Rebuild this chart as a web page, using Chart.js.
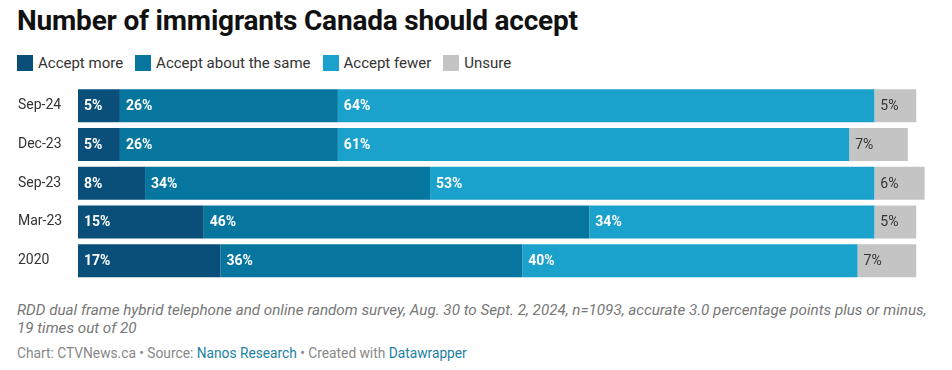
<!DOCTYPE html>
<html>
<head>
<meta charset="utf-8">
<script src="https://cdn.jsdelivr.net/npm/chart.js@4"></script>
<style>
  html, body { margin: 0; padding: 0; background: #fff; width: 952px; height: 370px; overflow: hidden; font-family: Roboto, sans-serif; }
  #title { position: absolute; left: 17px; top: 4px; font-size: 28px; font-weight: 700; color: #111; letter-spacing: -0.2px; white-space: nowrap; }
  #legend { position: absolute; left: 17px; top: 54px; font-size: 15px; color: #333; white-space: nowrap; display: flex; }
  .li { display: flex; align-items: center; margin-right: 12px; }
  .sw { width: 16px; height: 16px; margin-right: 5px; display: inline-block; }
  #wrap { position: absolute; left: 0; top: 74.7px; width: 952px; height: 216.5px; }
  #note { position: absolute; left: 17px; top: 302px; width: 915px; font-size: 15.2px; font-style: italic; color: #777; line-height: 17.5px; }
  #src { position: absolute; left: 17px; top: 345px; font-size: 13.75px; color: #888; white-space: nowrap; }
  #src a { color: #1d81a2; text-decoration: none; }
</style>
</head>
<body>
<div id="title">Number of immigrants Canada should accept</div>
<div id="legend"></div>
<div id="wrap"><canvas id="c"></canvas></div>
<div id="note">RDD dual frame hybrid telephone and online random survey, Aug. 30 to Sept. 2, 2024, n=1093, accurate 3.0 percentage points plus or minus, 19 times out of 20</div>
<div id="src">Chart: CTVNews.ca • Source: <a>Nanos Research</a> • Created with <a>Datawrapper</a></div>
<script>
const categories = ["Sep-24", "Dec-23", "Sep-23", "Mar-23", "2020"];
const seriesNames = ["Accept more", "Accept about the same", "Accept fewer", "Unsure"];
const acceptMore = [5, 5, 8, 15, 17];
const acceptSame = [26, 26, 34, 46, 36];
const acceptFewer = [64, 61, 53, 34, 40];
const unsure = [5, 7, 6, 5, 7];
const colors = ["#0a4f7a", "#06769f", "#1aa1cc", "#c4c4c4"];
const labelColors = ["#ffffff", "#ffffff", "#ffffff", "#333333"];
const labelWeights = ["700", "700", "700", "400"];

const legend = document.getElementById('legend');
seriesNames.forEach((n, i) => {
  const d = document.createElement('div');
  d.className = 'li';
  d.innerHTML = '<span class="sw" style="background:' + colors[i] + '"></span><span>' + n + '</span>';
  legend.appendChild(d);
});

const valueLabels = {
  id: 'valueLabels',
  afterDatasetsDraw(chart) {
    const ctx = chart.ctx;
    ctx.save();
    ctx.textBaseline = 'middle';
    ctx.textAlign = 'left';
    chart.data.datasets.forEach((ds, di) => {
      const meta = chart.getDatasetMeta(di);
      ctx.fillStyle = labelColors[di];
      ctx.font = labelWeights[di] + ' 14px Roboto';
      meta.data.forEach((el, i) => {
        const left = Math.min(el.x, el.base);
        ctx.fillText(ds.data[i] + '%', left + 6, el.y + 1);
      });
    });
    ctx.restore();
  }
};

const series = [acceptMore, acceptSame, acceptFewer, unsure];
new Chart(document.getElementById('c'), {
  type: 'bar',
  data: {
    labels: categories,
    datasets: series.map((d, i) => ({
      label: seriesNames[i],
      data: d,
      backgroundColor: colors[i],
      borderWidth: 0,
      barPercentage: 0.852,
      categoryPercentage: 1
    }))
  },
  options: {
    indexAxis: 'y',
    responsive: true,
    maintainAspectRatio: false,
    animation: false,
    layout: { padding: { left: 18, right: 19, top: 0, bottom: 0 } },
    plugins: { legend: { display: false }, tooltip: { enabled: false } },
    scales: {
      x: { stacked: true, min: 0, max: 102, display: false },
      y: {
        stacked: true,
        grid: { display: false },
        border: { display: false },
        ticks: { crossAlign: 'far', color: '#333', font: { family: 'Roboto', size: 14 } },
        afterFit(scale) { scale.width = 60; }
      }
    }
  },
  plugins: [valueLabels]
});
</script>
</body>
</html>
